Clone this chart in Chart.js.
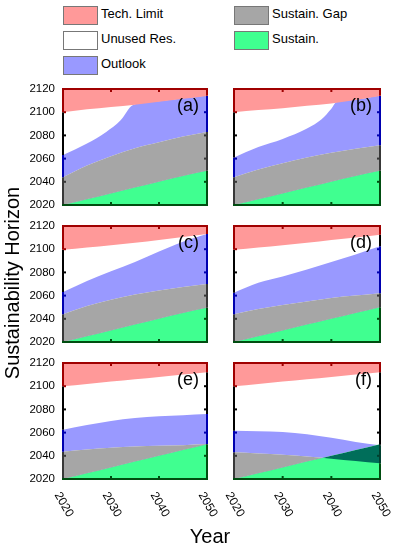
<!DOCTYPE html>
<html>
<head>
<meta charset="utf-8">
<script src="https://cdn.jsdelivr.net/npm/chart.js@4.4.1/dist/chart.umd.min.js"></script>
<style>
  body { margin: 0; background: #fff; }
  #wrap { position: relative; width: 395px; height: 550px; overflow: hidden; }
  #wrap canvas { position: absolute; left: 0; top: 0; }
  .sw { position: absolute; width: 33px; height: 17px; border: 1px solid #777; }
  .key { position: absolute; height: 19px; line-height: 19px; font: 13px "Liberation Sans", Arial, sans-serif; color: #000; }
</style>
</head>
<body>
<div id="wrap"></div>
<script>
// x positions of the samples (years)
const years = [2020, 2025, 2030, 2035, 2040, 2045, 2050];

// (a)
const techA = [2100, 2102.5, 2104.5, 2106.5, 2109, 2111.5, 2114];
const outlookYearsA = [2020, 2025, 2029, 2032, 2034.5, 2040, 2045, 2050];
const outlookA = [2063, 2073, 2083, 2093, 2106, 2109.5, 2112, 2114.5];
const gapA = [2044, 2054, 2062, 2069, 2074, 2079, 2083];
const sustA = [2020, 2025, 2030, 2035, 2040, 2045, 2049.5];
// (b)
const techB = [2100, 2101.8, 2103.5, 2105.5, 2107.5, 2110.5, 2114];
const outlookYearsB = [2020, 2025, 2030, 2035, 2038, 2040, 2041, 2045, 2050];
const outlookB = [2061, 2070, 2077, 2086, 2094, 2103, 2108.5, 2111, 2114.5];
const gapB = [2044, 2050.5, 2056, 2061, 2065, 2068.5, 2071.5];
const sustB = [2020, 2025, 2030, 2035, 2040, 2045, 2049.5];
// (c)
const techC = [2099.5, 2101.5, 2103.5, 2105.5, 2108, 2110.5, 2113];
const outlookC = [2063, 2072.5, 2081, 2089, 2098, 2106.5, 2113];
const gapC = [2044, 2051, 2056.5, 2061, 2064.5, 2067.5, 2070];
const sustC = [2020, 2025, 2030, 2035, 2040, 2045, 2049.5];
// (d)
const techD = [2099.5, 2101.5, 2103.5, 2105.5, 2108, 2110, 2112.5];
const outlookD = [2062.5, 2071, 2076.5, 2082.5, 2089, 2095.5, 2102.5];
const gapD = [2044, 2048.5, 2052, 2055, 2058, 2060, 2062];
const sustD = [2020, 2025, 2030, 2035, 2040, 2045, 2050];
// (e)
const techE = [2100, 2102, 2104, 2106, 2108, 2110, 2112];
const outlookE = [2062.5, 2066.5, 2070, 2072.5, 2074, 2075, 2076];
const gapE = [2043.5, 2045.5, 2047, 2048, 2048.7, 2049.2, 2050.2];
const sustE = [2020, 2025, 2030, 2035, 2040, 2045, 2050];
// (f)
const techF = [2100, 2102, 2104, 2106, 2108, 2110, 2112];
const outlookF = [2061.5, 2061.2, 2060.5, 2058.5, 2055.5, 2052, 2049];
const gapF = [2043, 2042, 2041, 2039.5, 2037.5, 2035.5, 2033.5];
const sustF = [2020, 2025, 2030, 2035, 2040, 2045, 2050];

const panelNames = ['(a)', '(b)', '(c)', '(d)', '(e)', '(f)'];
const yTicks = [2020, 2040, 2060, 2080, 2100, 2120];
const xTicks = [2020, 2030, 2040, 2050];
const legendLabels = ['Tech. Limit', 'Unused Res.', 'Outlook', 'Sustain. Gap', 'Sustain.'];

const RED = '#ff9999', WHITE = '#ffffff', BLUE = '#9999ff', GRAY = '#a6a6a6', GREEN = '#40ff90', OVERLAP = '#006e5a';
const legendColors = [RED, WHITE, BLUE, GRAY, GREEN];
const FONT = '"Liberation Sans", Arial, sans-serif';

const panels = [
  [techA, outlookYearsA, outlookA, gapA, sustA],
  [techB, outlookYearsB, outlookB, gapB, sustB],
  [techC, years, outlookC, gapC, sustC],
  [techD, years, outlookD, gapD, sustD],
  [techE, years, outlookE, gapE, sustE],
  [techF, years, outlookF, gapF, sustF]
];

const colLeft = [63, 234], colRight = [207, 380];
const rowTop = [89, 226, 363], rowBottom = [205, 342, 479];

const wrap = document.getElementById('wrap');

// legend
legendLabels.forEach(function (lab, i) {
  const col = i < 3 ? 0 : 1, row = i < 3 ? i : i - 3;
  const left = col === 0 ? 63 : 234, top = 6 + row * 25;
  const sw = document.createElement('div');
  sw.className = 'sw';
  sw.style.left = left + 'px';
  sw.style.top = top + 'px';
  sw.style.background = legendColors[i];
  wrap.appendChild(sw);
  const t = document.createElement('div');
  t.className = 'key';
  t.style.left = (left + 38) + 'px';
  t.style.top = top + 'px';
  t.textContent = lab;
  wrap.appendChild(t);
});

function pts(xs, ys) {
  return xs.map(function (x, i) { return { x: x, y: ys[i] }; });
}

// colour of the box edge at a given value, by the band it passes through
function edgeColor(v, e) {
  if (v >= e.t) return '#a00000';
  if (v >= e.o) return '#000000';
  if (v >= Math.max(e.g, e.s)) return '#0000b0';
  if (v >= e.s) return '#383838';
  if (v >= e.g) return '#00402f';
  return '#004d10';
}

const framePlugin = {
  id: 'frame',
  afterDraw(chart, args, o) {
    const ctx = chart.ctx, a = chart.chartArea, xs = chart.scales.x, ys = chart.scales.y;
    ctx.save();
    ctx.lineWidth = 2;
    function side(xp, e) {
      const cuts = [2020, 2120, e.t, e.o, e.g, e.s].map(function (v) {
        return Math.min(2120, Math.max(2020, v));
      }).sort(function (p, q) { return p - q; });
      for (let i = 0; i < cuts.length - 1; i++) {
        if (cuts[i + 1] - cuts[i] <= 0) continue;
        ctx.strokeStyle = edgeColor((cuts[i] + cuts[i + 1]) / 2, e);
        ctx.beginPath();
        ctx.moveTo(xp, ys.getPixelForValue(cuts[i]));
        ctx.lineTo(xp, ys.getPixelForValue(cuts[i + 1]));
        ctx.stroke();
      }
    }
    side(a.left, o.first);
    side(a.right, o.last);
    ctx.strokeStyle = '#a00000';
    ctx.beginPath(); ctx.moveTo(a.left - 1, a.top); ctx.lineTo(a.right + 1, a.top); ctx.stroke();
    ctx.strokeStyle = '#004d10';
    ctx.beginPath(); ctx.moveTo(a.left - 1, a.bottom); ctx.lineTo(a.right + 1, a.bottom); ctx.stroke();

    // inner tick marks
    yTicks.slice(1, -1).forEach(function (v) {
      const py = ys.getPixelForValue(v);
      ctx.fillStyle = edgeColor(v, o.first);
      ctx.fillRect(a.left + 1, py - 1, 2, 2);
      ctx.fillStyle = edgeColor(v, o.last);
      ctx.fillRect(a.right - 3, py - 1, 2, 2);
    });
    xTicks.slice(1, -1).forEach(function (v) {
      const px = xs.getPixelForValue(v);
      ctx.fillStyle = '#a00000';
      ctx.fillRect(px - 1, a.top + 1, 2, 2);
      ctx.fillStyle = '#004d10';
      ctx.fillRect(px - 1, a.bottom - 3, 2, 2);
    });

    ctx.fillStyle = '#000';
    ctx.font = '18px ' + FONT;
    ctx.textAlign = 'right';
    ctx.textBaseline = 'alphabetic';
    ctx.fillText(o.name, a.right - 8, a.top + 22);

    ctx.font = '11.5px ' + FONT;
    if (o.col === 0) {
      ctx.textAlign = 'right';
      ctx.textBaseline = 'middle';
      yTicks.forEach(function (v) {
        ctx.fillText(String(v), a.left - 8, ys.getPixelForValue(v));
      });
    }
    if (o.row === 2) {
      ctx.font = '12px ' + FONT;
      ctx.textAlign = 'left';
      ctx.textBaseline = 'middle';
      xTicks.forEach(function (v) {
        ctx.save();
        ctx.translate(xs.getPixelForValue(v) - 6, a.bottom + 14);
        ctx.rotate(Math.PI / 3);
        ctx.fillText(String(v), 0, 0);
        ctx.restore();
      });
    }

    if (o.titles) {
      ctx.font = '20px ' + FONT;
      ctx.textAlign = 'center';
      ctx.textBaseline = 'alphabetic';
      ctx.fillText('Year', 210, 543);
      ctx.save();
      ctx.translate(19, 283);
      ctx.rotate(-Math.PI / 2);
      ctx.fillText('Sustainability Horizon', 0, 0);
      ctx.restore();
    }
    ctx.restore();
  }
};

panels.forEach(function (p, i) {
  const tech = p[0], oy = p[1], outlook = p[2], gap = p[3], sust = p[4];
  const col = i % 2, row = Math.floor(i / 2);
  const cv = document.createElement('canvas');
  cv.width = 395; cv.height = 550;
  wrap.appendChild(cv);
  const common = { borderWidth: 0, borderColor: 'transparent', pointRadius: 0, cubicInterpolationMode: 'monotone' };
  const n = tech.length - 1;
  new Chart(cv.getContext('2d'), {
    type: 'line',
    data: {
      datasets: [
        Object.assign({ label: legendLabels[4], data: pts(years, sust), fill: 'start', backgroundColor: GREEN, order: 2 }, common),
        Object.assign({ label: legendLabels[3], data: pts(years, gap), fill: { target: 0, above: GRAY, below: OVERLAP }, order: 1 }, common),
        Object.assign({ label: legendLabels[2], data: pts(oy, outlook), fill: { target: 1, above: BLUE, below: BLUE }, order: 3 }, common),
        Object.assign({ label: legendLabels[0], data: pts(years, tech), fill: 'end', backgroundColor: RED, order: 0 }, common)
      ]
    },
    options: {
      responsive: false,
      animation: false,
      layout: { padding: { left: colLeft[col], top: rowTop[row], right: 395 - colRight[col], bottom: 550 - rowBottom[row] } },
      scales: {
        x: { type: 'linear', min: 2020, max: 2050, display: false },
        y: { type: 'linear', min: 2020, max: 2120, display: false }
      },
      plugins: {
        legend: { display: false },
        tooltip: { enabled: false },
        filler: { propagate: false },
        frame: {
          name: panelNames[i], col: col, row: row, titles: i === 0,
          first: { t: tech[0], o: outlook[0], g: gap[0], s: sust[0] },
          last: { t: tech[n], o: outlook[outlook.length - 1], g: gap[n], s: sust[n] }
        }
      }
    },
    plugins: [framePlugin]
  });
});
</script>
</body>
</html>
